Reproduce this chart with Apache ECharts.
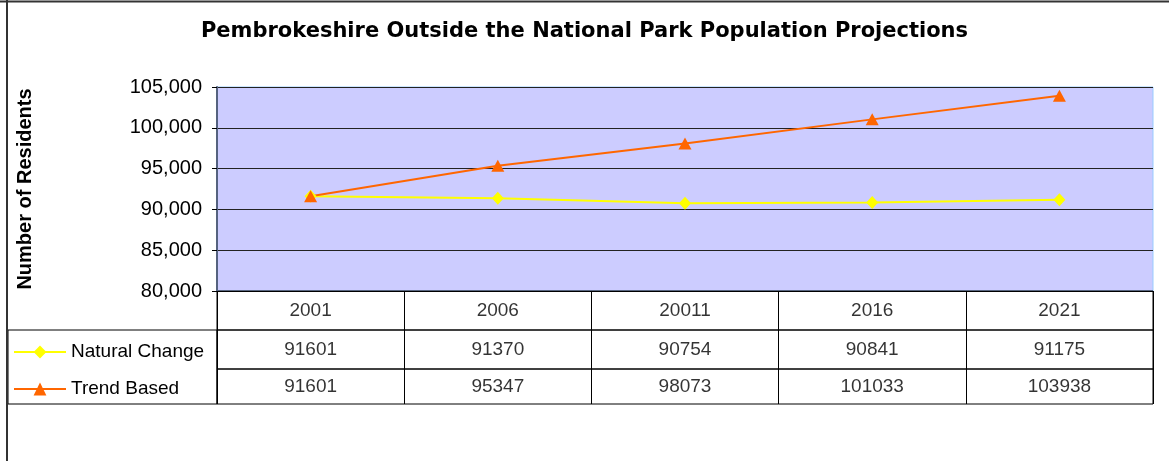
<!DOCTYPE html>
<html>
<head>
<meta charset="utf-8">
<script src="https://cdn.jsdelivr.net/npm/echarts@6/dist/echarts.min.js"></script>
<style>
html,body{margin:0;padding:0;background:#fff;}
#c{width:1169px;height:461px;}
</style>
</head>
<body>
<div id="c"></div>
<script>
const categories = ['2001', '2006', '20011', '2016', '2021'];
const naturalChange = [91601, 91370, 90754, 90841, 91175];
const trendBased = [91601, 95347, 98073, 101033, 103938];
const seriesNames = ['Natural Change', 'Trend Based'];
const yTicks = { min: 80000, max: 105000, interval: 5000 };

const FONT = "'Liberation Sans', Arial, sans-serif";
const chart = echarts.init(document.getElementById('c'), null, { renderer: 'canvas' });

const L = 217, R = 16;
function tableGrid(top, height) {
  return { left: L, right: R, top: top, height: height, show: true, backgroundColor: 'transparent', borderColor: '#000', borderWidth: 1, containLabel: false };
}
function tableX(gi) {
  return { type: 'category', gridIndex: gi, data: categories, boundaryGap: true,
    axisLabel: { show: false }, axisTick: { show: false }, axisLine: { show: false },
    splitLine: { show: true, lineStyle: { color: '#000', width: 1 } } };
}
function tableY(gi) {
  return { type: 'value', gridIndex: gi, min: 0, max: 1, show: false, splitLine: { show: false } };
}
function tableSeries(gi, labels) {
  return { type: 'scatter', xAxisIndex: gi, yAxisIndex: gi, symbolSize: 0, silent: true,
    data: categories.map((c, i) => ({ value: [c, 0.5], lbl: String(labels[i]) })),
    label: { show: true, position: 'inside', color: '#000', textBorderWidth: 0, fontSize: 19, fontFamily: FONT,
      formatter: p => p.data.lbl } };
}

const option = {
  animation: false,
  title: {
    text: 'Pembrokeshire Outside the National Park Population Projections',
    left: 'center', top: 21, padding: 0,
    textStyle: { fontSize: 21, fontWeight: 'bold', fontFamily: "'DejaVu Sans', sans-serif", color: '#000', lineHeight: 21 }
  },
  legend: {
    data: seriesNames, orient: 'vertical', left: 13, top: 342, padding: 0, itemWidth: 52, itemHeight: 16, itemGap: 17,
    textStyle: { fontSize: 19, fontFamily: FONT, color: '#000', lineHeight: 20 }, selectedMode: false
  },
  grid: [
    { left: L, right: R, top: 87, height: 204, show: true, backgroundColor: '#CCCCFF', borderColor: '#99CCFF', borderWidth: 1 },
    tableGrid(291, 39),
    tableGrid(330, 39),
    tableGrid(369, 35),
    { left: 8, width: 209, top: 330, height: 74, show: true, backgroundColor: 'transparent', borderColor: '#000', borderWidth: 1 }
  ],
  xAxis: [
    { type: 'category', gridIndex: 0, data: categories, boundaryGap: true,
      axisLabel: { show: false }, axisTick: { show: false },
      axisLine: { show: true, lineStyle: { color: '#000', width: 1 } } },
    tableX(1), tableX(2), tableX(3),
    { type: 'value', gridIndex: 4, show: false, splitLine: { show: false } }
  ],
  yAxis: [
    { type: 'value', gridIndex: 0, min: yTicks.min, max: yTicks.max, interval: yTicks.interval,
      name: 'Number of Residents', nameLocation: 'middle', nameRotate: 90, nameGap: 182,
      nameTextStyle: { fontSize: 20, fontWeight: 'bold', fontFamily: FONT, color: '#000' },
      axisLine: { show: true, lineStyle: { color: '#55627f', width: 2 } },
      axisTick: { show: true, length: 5, lineStyle: { color: '#000' } },
      axisLabel: { margin: 15, fontSize: 20, fontFamily: FONT, color: '#000',
        formatter: v => v.toLocaleString('en-US') },
      splitLine: { show: true, lineStyle: { color: '#222', width: 1 } } },
    tableY(1), tableY(2), tableY(3),
    { type: 'value', gridIndex: 4, show: false, splitLine: { show: false } }
  ],
  series: [
    { name: seriesNames[0], type: 'line', xAxisIndex: 0, yAxisIndex: 0, data: naturalChange,
      symbol: 'diamond', symbolSize: [12, 13], showAllSymbol: true,
      lineStyle: { color: '#FFFF00', width: 2 }, itemStyle: { color: '#FFFF00' } },
    { name: seriesNames[1], type: 'line', xAxisIndex: 0, yAxisIndex: 0, data: trendBased,
      symbol: 'triangle', symbolSize: [13, 12], showAllSymbol: true,
      lineStyle: { color: '#FF6600', width: 2 }, itemStyle: { color: '#FF6600' } },
    tableSeries(1, categories),
    tableSeries(2, naturalChange),
    tableSeries(3, trendBased)
  ],
  graphic: [
    { type: 'line', shape: { x1: 0, y1: 1.5, x2: 1169, y2: 1.5 }, style: { stroke: '#333', lineWidth: 2 }, silent: true },
    { type: 'line', shape: { x1: 7, y1: 0, x2: 7, y2: 461 }, style: { stroke: '#333', lineWidth: 2 }, silent: true }
  ]
};
chart.setOption(option);
</script>
</body>
</html>
